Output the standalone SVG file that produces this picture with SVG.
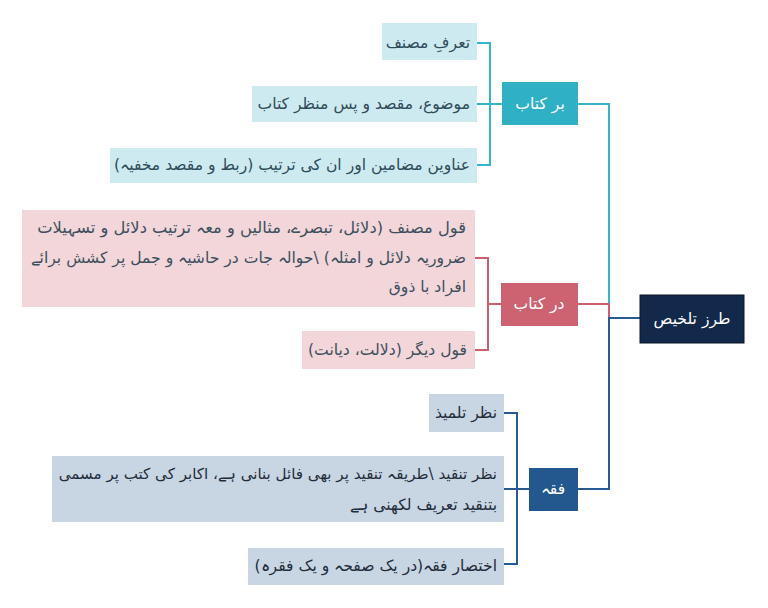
<svg xmlns="http://www.w3.org/2000/svg" width="768" height="608" viewBox="0 0 768 608">
<style>
.t{font-family:"DejaVu Sans","Noto Sans",sans-serif;font-size:15.6px;direction:rtl;text-anchor:start}
.c{font-family:"DejaVu Sans","Noto Sans",sans-serif;font-size:15.6px;direction:rtl;text-anchor:middle;fill:#ffffff}
.cy{fill:#cdeaf0}
.pk{fill:#f2d6da}
.bl{fill:#c8d5e3}
.tc{fill:#2d4b58}
.tp{fill:#3c4f5c}
.tb{fill:#1f2c3a}
.lc{stroke:#36b4c9;stroke-width:2;fill:none}
.lp{stroke:#cf5f6d;stroke-width:2;fill:none}
.lb{stroke:#275a95;stroke-width:2;fill:none}
</style>
<rect width="768" height="608" fill="#ffffff"/>
<g id="connectors">
<path class="lc" d="M578 104 H609 V318"/>
<path class="lc" d="M477 43 H490 V165 H477 M477 104 H502"/>
<path class="lp" d="M578 304 H609 V318"/>
<path class="lp" d="M475 258 H488 V350 H475 M488 304 H501"/>
<path class="lb" d="M640 318 H609 V489 H578"/>
<path class="lb" d="M504 413 H517 V564 H504 M504 489 H529"/>
</g>
<g id="root">
<rect x="640" y="295" width="104" height="48" fill="#13294b" stroke="#0b1526" stroke-width="1"/>
<text class="c" x="692" y="324">طرز تلخیص</text>
</g>
<g id="b1">
<rect x="502" y="82" width="76" height="43" fill="#30b0c4"/>
<text class="c" x="540" y="109">بر کتاب</text>
</g>
<g id="b1c1">
<rect class="cy" x="382" y="23" width="95" height="37"/>
<text class="t tc" x="470" y="48">تعرفِ مصنف</text>
</g>
<g id="b1c2">
<rect class="cy" x="252" y="86" width="225" height="36"/>
<text class="t tc" x="470" y="109">موضوع، مقصد و پس منظر کتاب</text>
</g>
<g id="b1c3">
<rect class="cy" x="110" y="148" width="367" height="35"/>
<text class="t tc" x="470" y="170">عناوین مضامین اور ان کی ترتیب (ربط و مقصد مخفیہ)</text>
</g>
<g id="b2">
<rect x="501" y="283" width="77" height="43" fill="#cd6270"/>
<text class="c" x="539" y="309">در کتاب</text>
</g>
<g id="b2c1">
<rect class="pk" x="22" y="210" width="453" height="97"/>
<text class="t tp" x="466" y="233" style="font-size:16.3px">قول مصنف (دلائل، تبصرے، مثالیں و معہ ترتیب دلائل و تسہیلات</text>
<text class="t tp" x="466" y="263">ضروریہ دلائل و امثلہ) \حوالہ جات در حاشیہ و جمل پر کشش برائے</text>
<text class="t tp" x="466" y="292">افراد با ذوق</text>
</g>
<g id="b2c2">
<rect class="pk" x="302" y="331" width="173" height="38"/>
<text class="t tp" x="467" y="355">قول دیگر (دلالت، دیانت)</text>
</g>
<g id="b3">
<rect x="529" y="468" width="49" height="43" fill="#23588f"/>
<text class="c" x="553" y="494">فقہ</text>
</g>
<g id="b3c1">
<rect class="bl" x="429" y="394" width="75" height="38"/>
<text class="t tb" x="497" y="418">نظر تلمیذ</text>
</g>
<g id="b3c2">
<rect class="bl" x="52" y="456" width="452" height="66"/>
<text class="t tb" x="497" y="479" style="font-size:15.1px">نظر تنقید \طریقہ تنقید پر بھی فائل بنانی ہے، اکابر کی کتب پر مسمی</text>
<text class="t tb" x="497" y="510">بتنقید تعریف لکھنی ہے</text>
</g>
<g id="b3c3">
<rect class="bl" x="248" y="548" width="256" height="37"/>
<text class="t tb" x="497" y="571">اختصار فقہ(در یک صفحہ و یک فقرہ)</text>
</g>
</svg>
